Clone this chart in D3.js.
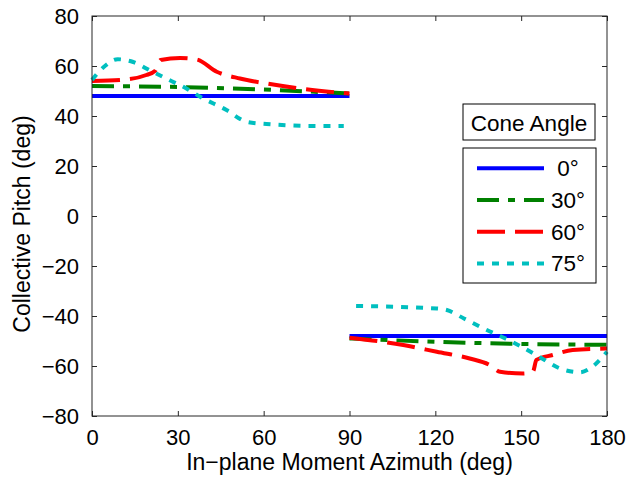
<!DOCTYPE html>
<html>
<head>
<meta charset="utf-8">
<script src="https://cdn.jsdelivr.net/npm/d3@7"></script>
<style>
  body { margin: 0; background: #fff; }
  text { font-family: "Liberation Sans", Arial, Helvetica, sans-serif; fill: #000; }
</style>
</head>
<body>
<div id="chart"></div>
<script>
// cone angles shown in legend
const coneAngles = ["0°", "30°", "60°", "75°"];

// [azimuth (deg), collective pitch (deg)]; null breaks the line at 90 deg
const pitch0 = [[0, 48], [90, 48], null, [90, -48], [180, -48]];
const pitch30 = [[0, 52], [30, 51.6], [60, 50.6], [90, 49], null,
                 [90, -49], [120, -50.3], [150, -51.2], [180, -51.5]];
const pitch60 = [[0, 54], [10, 54.4], [19, 56.4], [22, 58], [24, 62.4], [30.8, 63.2], [36.6, 62.6],
                 [43.6, 57.7], [51.7, 55], [61, 53], [72.7, 51], [90, 49], null,
                 [90, -48.7], [108.8, -51.6], [120.5, -54.3], [132, -57], [139, -59.6], [142.6, -62.3],
                 [150.7, -63], [154.2, -62], [155.3, -57.6], [161, -55.6], [168, -53.6], [180, -53]];
const pitch75 = [[0, 54.4], [4, 59.5], [9, 62.7], [14.4, 61.6], [20, 58.4], [27, 54.4], [33, 51],
                 [37.8, 47.7], [47, 42.4], [54, 37.7], [61, 36.8], [78.5, 36], [88, 36], null,
                 [92.3, -36], [120.5, -37], [124, -37.6], [130, -41], [138, -45.6], [143.2, -48.3],
                 [149.6, -52], [156.6, -56.5], [163.6, -61], [170.6, -62.5], [174, -61], [180, -54.3]];

const xTicks = [0, 30, 60, 90, 120, 150, 180];
const yTicks = [-80, -60, -40, -20, 0, 20, 40, 60, 80];

const width = 635, height = 481;
const margin = {top: 16, right: 28, bottom: 65, left: 92};

const series = [
  {name: coneAngles[0], data: pitch0, color: "#0000ff", dash: null},
  {name: coneAngles[1], data: pitch30, color: "#008000", dash: "22,9,7,9"},
  {name: coneAngles[2], data: pitch60, color: "#ff0000", dash: "28,10"},
  {name: coneAngles[3], data: pitch75, color: "#00bfbf", dash: "7,8"}
];

const svg = d3.select("#chart").append("svg")
    .attr("width", width)
    .attr("height", height);

const x = d3.scaleLinear().domain([0, 180]).range([margin.left, width - margin.right]);
const y = d3.scaleLinear().domain([-80, 80]).range([height - margin.bottom, margin.top]);

const fontSize = 22;

// lines first so axes sit on top
const line = d3.line()
    .defined(d => d !== null)
    .x(d => x(d[0]))
    .y(d => y(d[1]))
    .curve(d3.curveMonotoneX);

svg.append("g").selectAll("path")
  .data(series)
  .enter().append("path")
    .attr("d", d => line(d.data))
    .attr("fill", "none")
    .attr("stroke", d => d.color)
    .attr("stroke-width", 4)
    .attr("stroke-dasharray", d => d.dash);

// axes, matlab style: ticks inside, box all round
const tickLen = 5;
const styleAxis = g => {
  g.select(".domain").remove();
  g.selectAll(".tick line").attr("stroke", "#262626");
};

svg.append("g")
    .attr("transform", `translate(0,${y(-80)})`)
    .call(d3.axisBottom(x).tickValues(xTicks).tickSizeInner(-tickLen).tickSizeOuter(0).tickPadding(tickLen + 8))
    .call(styleAxis)
    .call(g => g.selectAll("text").style("font-size", fontSize + "px").attr("dy", "0.71em"));

svg.append("g")
    .attr("transform", `translate(0,${y(80)})`)
    .call(d3.axisTop(x).tickValues(xTicks).tickSizeInner(-tickLen).tickSizeOuter(0).tickFormat(""))
    .call(styleAxis);

svg.append("g")
    .attr("transform", `translate(${x(0)},0)`)
    .call(d3.axisLeft(y).tickValues(yTicks).tickSizeInner(-tickLen).tickSizeOuter(0).tickPadding(tickLen + 8)
      .tickFormat(d => d < 0 ? "\u2212" + Math.abs(d) : d))
    .call(styleAxis)
    .call(g => g.selectAll("text").style("font-size", fontSize + "px").attr("dy", "0.36em"));

svg.append("g")
    .attr("transform", `translate(${x(180)},0)`)
    .call(d3.axisRight(y).tickValues(yTicks).tickSizeInner(-tickLen).tickSizeOuter(0).tickFormat(""))
    .call(styleAxis);

svg.append("rect")
    .attr("x", x(0))
    .attr("y", y(80))
    .attr("width", x(180) - x(0))
    .attr("height", y(-80) - y(80))
    .attr("fill", "none")
    .attr("stroke", "#262626")
    .attr("stroke-width", 1);

// axis labels
svg.append("text")
    .attr("x", (x(0) + x(180)) / 2)
    .attr("y", 470)
    .attr("text-anchor", "middle")
    .style("font-size", "23px")
    .text("In\u2212plane Moment Azimuth (deg)");

svg.append("text")
    .attr("transform", `translate(30,${(y(80) + y(-80)) / 2 + 8}) rotate(-90)`)
    .attr("text-anchor", "middle")
    .style("font-size", "23px")
    .text("Collective Pitch (deg)");

// legend
const legX = 463, legW = 132;
const title = svg.append("g");
title.append("rect")
    .attr("x", legX).attr("y", 104)
    .attr("width", legW).attr("height", 36)
    .attr("fill", "#fff").attr("stroke", "#000");
title.append("text")
    .attr("x", legX + legW / 2).attr("y", 131)
    .attr("text-anchor", "middle")
    .style("font-size", "22.5px")
    .text("Cone Angle");

const leg = svg.append("g");
leg.append("rect")
    .attr("x", legX).attr("y", 148)
    .attr("width", legW + 1).attr("height", 135)
    .attr("fill", "#fff").attr("stroke", "#000");

const entry = leg.selectAll("g.entry")
  .data(series)
  .enter().append("g")
    .attr("class", "entry")
    .attr("transform", (d, i) => `translate(0,${168.3 + i * 31.7})`);

entry.append("line")
    .attr("x1", 477).attr("x2", 544)
    .attr("stroke", d => d.color)
    .attr("stroke-width", 4)
    .attr("stroke-dasharray", d => d.dash);

entry.append("text")
    .attr("x", 568).attr("y", 8)
    .attr("text-anchor", "middle")
    .style("font-size", "22.5px")
    .text(d => d.name);
</script>
</body>
</html>
